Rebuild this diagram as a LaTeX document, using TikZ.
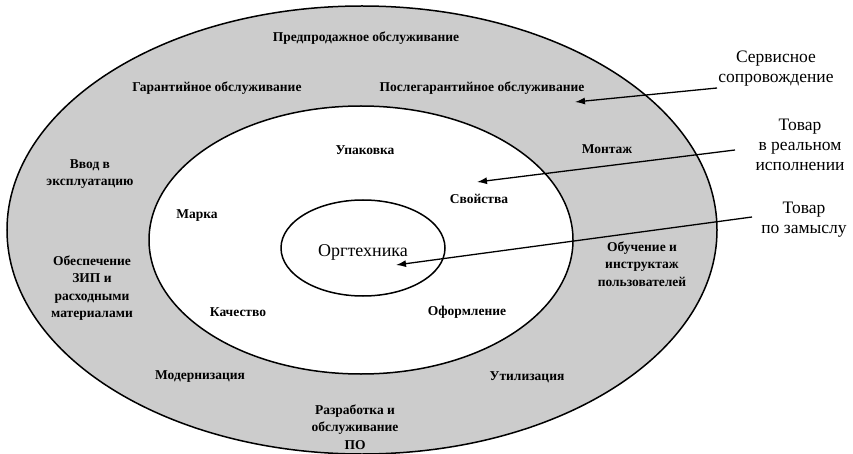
\documentclass[tikz,border=0pt]{standalone}
\usepackage{fontspec}
\setmainfont{Liberation Serif}
\usetikzlibrary{arrows.meta}
\tikzset{
  ring/.style={font=\bfseries\fontsize{13.5}{17.5}\selectfont, align=center, inner sep=0pt},
  side/.style={font=\fontsize{17.5}{20}\selectfont, align=center, inner sep=0pt},
  core/.style={font=\fontsize{18}{20}\selectfont, inner sep=0pt},
  edge/.style={line width=1.5pt},
  pointer/.style={line width=1.3pt, -{Latex[length=10pt,width=7pt]}},
}
\begin{document}
\begin{tikzpicture}[x=1pt,y=-1pt]
\useasboundingbox (0,0) rectangle (853,454);
\fill[white] (0,0) rectangle (853,454);
% ellipses
\filldraw[edge, fill=black!20] (362,230) ellipse [x radius=355, y radius=224];
\filldraw[edge, fill=white] (361,240) ellipse [x radius=212, y radius=134];
\draw[edge] (363,248) ellipse [x radius=82, y radius=48];
% outer ring
\node[ring] (pre) at (366,38) {Предпродажное обслуживание};
\node[ring] (gar) at (217,88) {Гарантийное обслуживание};
\node[ring] (post) at (482,88) {Послегарантийное обслуживание};
\node[ring] (mont) at (607,149) {Монтаж};
\node[ring] (vvod) at (90,174) {Ввод в\\эксплуатацию};
\node[ring] (zip) at (92,288) {Обеспечение\\ЗИП и\\расходными\\материалами};
\node[ring] (obuch) at (642,264) {Обучение и\\инструктаж\\пользователей};
\node[ring] (mod) at (200,377) {Модернизация};
\node[ring] (util) at (527,377) {Утилизация};
\node[ring] (po) at (355,427) {Разработка и\\обслуживание\\ПО};
% middle ring
\node[ring] (upak) at (365,150) {Упаковка};
\node[ring] (svo) at (479,199) {Свойства};
\node[ring] (mark) at (197,216) {Марка};
\node[ring] (kach) at (238,312) {Качество};
\node[ring] (ofor) at (467,312) {Оформление};
% core
\node[core] (org) at (363,252) {Оргтехника};
% side labels
\node[side] (serv) at (776,69) {Сервисное\\сопровождение};
\node[side] (real) at (800,145) {Товар\\в реальном\\исполнении};
\node[side] (zam) at (804,220) {Товар\\по замыслу};
% pointers
\coordinate (s1) at (717,88);
\coordinate (t1) at (575,102);
\coordinate (s2) at (735,150);
\coordinate (t2) at (477,182);
\coordinate (s3) at (752,217);
\coordinate (t3) at (396,265);
\draw[pointer] (s1) -- (t1);
\draw[pointer] (s2) -- (t2);
\draw[pointer] (s3) -- (t3);
\end{tikzpicture}
\end{document}
